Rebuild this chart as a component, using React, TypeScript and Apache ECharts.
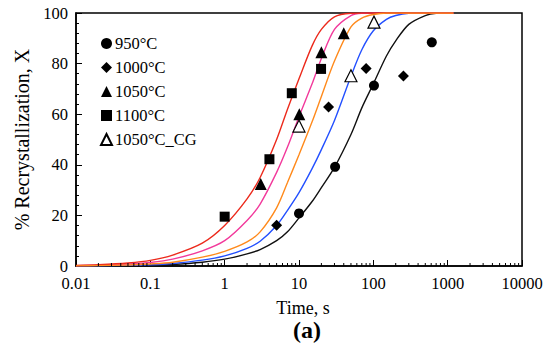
import React, { useEffect, useRef } from "react";
import * as echarts from "echarts";

// ---- Data ----
const timeTickLabels = ["0.01", "0.1", "1", "10", "100", "1000", "10000"];
const yTickLabels = ["0", "20", "40", "60", "80", "100"];

const seriesNames = ["950°C", "1000°C", "1050°C", "1100°C", "1050°C_CG"];

// measured points [time s, X %]
const pts950: number[][] = [[10, 20.8], [30.6, 39.2], [102, 71.3], [612, 88.4]];
const pts1000: number[][] = [[5, 16.1], [25, 62.8], [80, 78.1], [254, 75.1]];
const pts1050: number[][] = [[3.06, 32.4], [10.1, 60], [20, 84.5], [40, 92]];
const pts1100: number[][] = [[1, 19.5], [4, 42.2], [8, 68.3], [19.8, 77.9]];
const pts1050CG: number[][] = [[10, 55.3], [50, 75.2], [102, 96.4]];

// fitted curves [time s, X %]
const curveRed: number[][] = [
  [0.01, 0.2], [0.02, 0.5], [0.05, 1.2], [0.1, 2.2], [0.2, 4.3], [0.5, 9], [1, 16], [2, 26.5],
  [3, 35], [5, 50], [7, 62], [10, 74], [15, 87], [20, 93.5], [30, 98.5], [50, 99.9], [70, 100],
  [100, 100], [1200, 100],
];
const curvePink: number[][] = [
  [0.01, 0.1], [0.02, 0.3], [0.05, 0.8], [0.1, 1.4], [0.2, 2.7], [0.5, 6], [1, 10], [2, 18],
  [3, 24.5], [5, 37], [7, 47], [10, 59], [15, 72], [20, 82], [30, 93.5], [50, 99], [70, 99.9],
  [100, 100], [1200, 100],
];
const curveOrange: number[][] = [
  [0.01, 0.05], [0.02, 0.15], [0.05, 0.4], [0.1, 0.8], [0.2, 1.5], [0.5, 3.5], [1, 5.8], [2, 9.5],
  [3, 13.5], [5, 23], [7, 33], [10, 44], [15, 57], [20, 67], [30, 81], [50, 94.5], [70, 98],
  [100, 99.4], [150, 100], [1200, 100],
];
const curveBlue: number[][] = [
  [0.01, 0.03], [0.02, 0.08], [0.05, 0.25], [0.1, 0.5], [0.2, 1], [0.5, 2.3], [1, 4], [2, 7],
  [3, 9.8], [5, 16], [7, 22], [10, 29], [15, 38.5], [20, 46], [30, 57.5], [50, 75], [70, 85.5],
  [100, 93], [150, 97.5], [200, 99], [300, 99.9], [500, 100], [1200, 100],
];
const curveBlack: number[][] = [
  [0.01, 0.02], [0.02, 0.05], [0.05, 0.12], [0.1, 0.3], [0.2, 0.6], [0.5, 1.5], [1, 2.7], [2, 4.8],
  [3, 6.5], [5, 10], [7, 13.5], [10, 19], [15, 25.5], [20, 31], [30, 39], [50, 52], [70, 62.5],
  [100, 72], [150, 83], [200, 89], [300, 95.5], [500, 99], [700, 99.9], [1000, 100], [1200, 100],
];

const curveColors = { black: "#111111", blue: "#2350ff", orange: "#ff8a1c", pink: "#f2399b", red: "#ec2a1c" };

const decades = [0.01, 0.1, 1, 10, 100, 1000];
const minorTickValues: number[][] = [];
decades.forEach((d) => {
  for (let k = 2; k <= 9; k++) minorTickValues.push([d * k, 0]);
});

const FONT = "Liberation Serif";

export default function App() {
  const ref = useRef<HTMLDivElement>(null);
  useEffect(() => {
    if (!ref.current) return;
    const chart = echarts.init(ref.current, null, { renderer: "svg" });
    const curve = (data: number[][], color: string, z: number) => ({
      type: "line",
      data,
      smooth: 0.3,
      showSymbol: false,
      symbol: "none",
      silent: true,
      z,
      lineStyle: { color, width: 1.4 },
    });
    const scatter = (name: string, data: number[][], symbol: string, size: number, open = false) => ({
      type: "scatter",
      name,
      data,
      symbol,
      symbolSize: size,
      z: 10,
      itemStyle: open
        ? { color: "#ffffff", borderColor: "#000000", borderWidth: 1.2, opacity: 1 }
        : { color: "#000000", opacity: 1 },
    });
    chart.setOption({
      animation: false,
      backgroundColor: "#ffffff",
      textStyle: { fontFamily: FONT },
      grid: {
        left: 76,
        right: 33,
        top: 13,
        bottom: 87,
        show: true,
        borderColor: "#000",
        borderWidth: 1.5,
        backgroundColor: "transparent",
      },
      legend: {
        data: seriesNames,
        orient: "vertical",
        left: 100,
        top: 35,
        itemWidth: 11,
        itemHeight: 11,
        itemGap: 7,
        padding: 0,
        textStyle: { fontFamily: FONT, fontSize: 16.5, color: "#000", lineHeight: 16.5, padding: [0, 0, 0, -2] },
      },
      xAxis: {
        type: "log",
        logBase: 10,
        min: 0.01,
        max: 10000,
        name: "Time, s",
        nameLocation: "middle",
        nameGap: 33,
        nameTextStyle: { fontFamily: FONT, fontSize: 18, color: "#000", padding: [0, 0, 0, 8] },
        axisLine: { show: true, lineStyle: { color: "#000", width: 1.5 } },
        axisTick: { show: true, inside: true, length: 6, lineStyle: { color: "#000", width: 1 } },
        splitLine: { show: false },
        axisLabel: {
          fontFamily: FONT,
          fontSize: 16.5,
          color: "#000",
          margin: 9,
          formatter: (v: number) => {
            const i = Math.round(Math.log10(v)) + 2;
            return timeTickLabels[i] ?? "";
          },
        },
      },
      yAxis: {
        type: "value",
        min: 0,
        max: 100,
        interval: 20,
        name: "% Recrystallization, X",
        nameLocation: "middle",
        nameGap: 42,
        nameTextStyle: { fontFamily: FONT, fontSize: 20, color: "#000" },
        axisLine: { show: true, lineStyle: { color: "#000", width: 1.5 } },
        axisTick: { show: true, inside: true, length: 6, lineStyle: { color: "#000", width: 1 } },
        minorTick: { show: true, splitNumber: 5, length: 3, lineStyle: { color: "#000", width: 1 } },
        splitLine: { show: false },
        minorSplitLine: { show: false },
        axisLabel: {
          fontFamily: FONT,
          fontSize: 16.5,
          color: "#000",
          margin: 8,
          formatter: (v: number) => yTickLabels[Math.round(v / 20)] ?? "",
        },
      },
      graphic: [
        {
          type: "text",
          left: 293,
          top: 318,
          style: { text: "(a)", fontFamily: FONT, fontSize: 24, fontWeight: "bold", fill: "#000" },
        },
      ],
      series: [
        curve(curveBlack, curveColors.black, 2),
        curve(curveBlue, curveColors.blue, 3),
        curve(curvePink, curveColors.pink, 4),
        curve(curveRed, curveColors.red, 5),
        curve(curveOrange, curveColors.orange, 6),
        {
          type: "custom",
          silent: true,
          data: minorTickValues,
          encode: { x: 0, y: 1 },
          z: 12,
          renderItem: (_params: any, api: any) => {
            const p = api.coord([api.value(0), 0]);
            return {
              type: "line",
              shape: { x1: p[0], y1: p[1], x2: p[0], y2: p[1] - 3 },
              style: { stroke: "#000", lineWidth: 1 },
            };
          },
        },
        scatter(seriesNames[0], pts950, "circle", 10),
        scatter(seriesNames[1], pts1000, "diamond", 11),
        scatter(seriesNames[2], pts1050, "triangle", 12),
        scatter(seriesNames[3], pts1100, "rect", 10),
        scatter(seriesNames[4], pts1050CG, "triangle", 12, true),
      ],
    });
    return () => chart.dispose();
  }, []);
  return (
    <div
      ref={ref}
      style={{ position: "fixed", left: 0, top: 0, width: 555, height: 353, background: "#fff" }}
    />
  );
}
